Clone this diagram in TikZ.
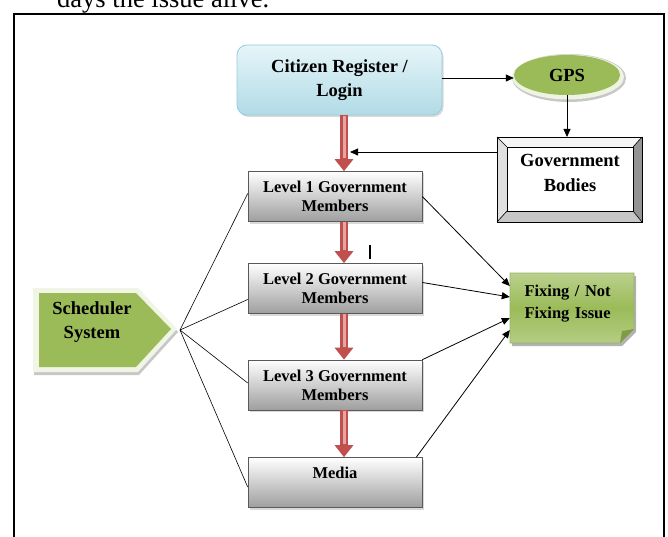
\documentclass[tikz,border=0pt]{standalone}
\usepackage{fontspec}
\setmainfont{Liberation Serif}
\usetikzlibrary{arrows.meta,calc,shadows,shapes.geometric}
\definecolor{redA}{HTML}{C0504D}
\definecolor{redL}{HTML}{E8A4A2}
\definecolor{grnA}{HTML}{9BBB59}
\definecolor{grnL}{HTML}{D3E2B6}
\definecolor{grnD}{HTML}{7E9C44}
\definecolor{bluT}{HTML}{E6F5F9}
\definecolor{bluB}{HTML}{B1DBE6}
\definecolor{bluD}{HTML}{93CDDD}
\begin{document}
\begin{tikzpicture}[x=1pt,y=-1pt,
  lvl/.style={draw=black!65, line width=0.6pt, top color=white, bottom color=black!38,
    minimum width=174pt, minimum height=50pt, inner sep=0pt, align=center,
    font=\fontsize{16.5}{19}\selectfont\bfseries,
    drop shadow={shadow xshift=2pt,shadow yshift=-2pt,opacity=0.3}},
  bigtxt/.style={font=\fontsize{18.5}{24.5}\selectfont\bfseries, align=center},
  conn/.style={line width=0.6pt, black},
  arr/.style={line width=0.8pt, black, -{Triangle[width=7pt,length=8pt]}},
  redarrow/.style={line width=8.5pt, redA, -{Triangle[width=18pt,length=12pt]}},
  redhi/.style={line width=3pt, redL, shorten >=13pt, shorten <=0.5pt},
]
\useasboundingbox (0,0) rectangle (668,537);
% partially visible text above the frame
\node[anchor=base west, inner sep=0pt, font=\fontsize{26.5}{26.5}\selectfont] (top) at (57,8) {days the issue alive.};
% frame
\draw[line width=1.6pt] (14,560) -- (14,14) -- (664,14) -- (664,560);

% Citizen register
\node[bigtxt, rounded corners=10pt, draw=bluD, line width=0.8pt, top color=bluT, bottom color=bluB,
  minimum width=205pt, minimum height=70pt, inner sep=0pt,
  drop shadow={shadow xshift=1.5pt,shadow yshift=-2pt,opacity=0.3}] (cr) at (339.5,80) {Citizen Register /\\Login};

% GPS
\fill[black!22] (569,78) ellipse [x radius=57pt, y radius=24pt];
\fill[grnL!40!white] (568,77) ellipse [x radius=56pt, y radius=22.5pt];
\node[ellipse, fill=grnA, minimum width=106pt, minimum height=40pt, inner sep=0pt,
  font=\fontsize{18.5}{22}\selectfont\bfseries] (gps) at (567,75) {GPS};

% Government bodies (bevel)
\fill[black!4] (497,137) -- (642,137) -- (633,147) -- (507,147) -- cycle;
\fill[black!12] (497,137) -- (507,147) -- (507,211) -- (497,222) -- cycle;
\fill[black!42] (642,137) -- (642,222) -- (633,211) -- (633,147) -- cycle;
\fill[black!22] (497,222) -- (642,222) -- (633,211) -- (507,211) -- cycle;
\draw[line width=0.7pt] (497,137) rectangle (642,222);
\draw[line width=0.6pt] (497,137) -- (507,147) (642,137) -- (633,147) (642,222) -- (633,211) (497,222) -- (507,211);
\node[bigtxt, draw, line width=0.7pt, fill=white, minimum width=126pt, minimum height=64pt, inner sep=0pt,
  text depth=0pt] (gb) at (570,179) {Government\\Bodies\\[-12pt]\mbox{}};
\coordinate (gbtop) at (567,137);

% Level boxes
\node[lvl] (l1) at (335,196.5) {Level 1 Government\\Members};
\node[lvl] (l2) at (335,288.5) {Level 2 Government\\Members};
\node[lvl] (l3) at (335,385) {Level 3 Government\\Members};
\node[lvl] (md) at (335,482.5) {Media\\\mbox{}};

% Scheduler system
\fill[black!22] (34,291) -- (139,291) -- (178,332) -- (139,375) -- (34,375) -- cycle;
\fill[grnL!35!white] (33,288) -- (138,288) -- (177,329) -- (138,372) -- (33,372) -- cycle;
\fill[grnA] (39,293) -- (136,293) -- (171,329) -- (136,367) -- (39,367) -- cycle;
\node[bigtxt] (sch) at (92,322) {Scheduler\\System};
\coordinate (tip) at (180,330);

% Fixing / Not Fixing Issue (folded note)
\fill[black!30] (512,276) -- (636,276) -- (636,332) -- (622,346) -- (512,346) -- cycle;
\shade[top color=grnL!55!grnA, bottom color=grnL!45!grnA, middle color=grnA, draw=grnD!80, line width=0.6pt]
  (510,273) -- (634,273) -- (634,329) -- (620,343) -- (510,343) -- cycle;
\fill[grnD] (634,329) -- (620,343) -- (622,331) -- cycle;
\node[text width=95pt, inner xsep=14.5pt, inner ysep=0pt, minimum height=70pt, align=left,
  font=\fontsize{16.5}{22}\selectfont\bfseries] (fx) at (572,308) {Fixing / Not\\Fixing Issue\\[-10pt]\mbox{}};

% black arrows
\draw[arr] (cr.east |- 0,78) -- (gps.west |- 0,78);
\draw[arr] (gps.south) -- (gbtop);
\coordinate (gbt) at (350,152);
\draw[arr] (497,152) -- (gbt);

% red flow arrows
\coordinate (ax) at (344,0);
\foreach \a/\b in {cr/l1,l1/l2,l2/l3,l3/md}{
  \draw[redarrow] (\a.south -| ax) -- (\b.north -| ax);
  \draw[redhi] (\a.south -| ax) -- (\b.north -| ax);
}
% stray tick
\draw[line width=1.4pt] (370,245) -- (370,259);

% scheduler lines
\draw[conn] (tip) -- ($(l1.west)+(0,-3)$);
\draw[conn] (tip) -- ($(l2.west)+(0,11)$);
\draw[conn] (tip) -- ($(l3.west)+(0,-2)$);
\draw[conn] (tip) -- ($(md.west)+(0,4.5)$);

% arrows into Fixing
\draw[arr] (l1.east) -- ($(fx.west)+(0,-22)$);
\draw[arr] ($(l2.east)+(0,-6)$) -- ($(fx.west)+(0,-11)$);
\draw[arr] (l3.north east) -- ($(fx.west)+(0,10)$);
\draw[arr] ($(md.north east)+(-6,0)$) -- ($(fx.west)+(0,22)$);
\end{tikzpicture}
\end{document}
